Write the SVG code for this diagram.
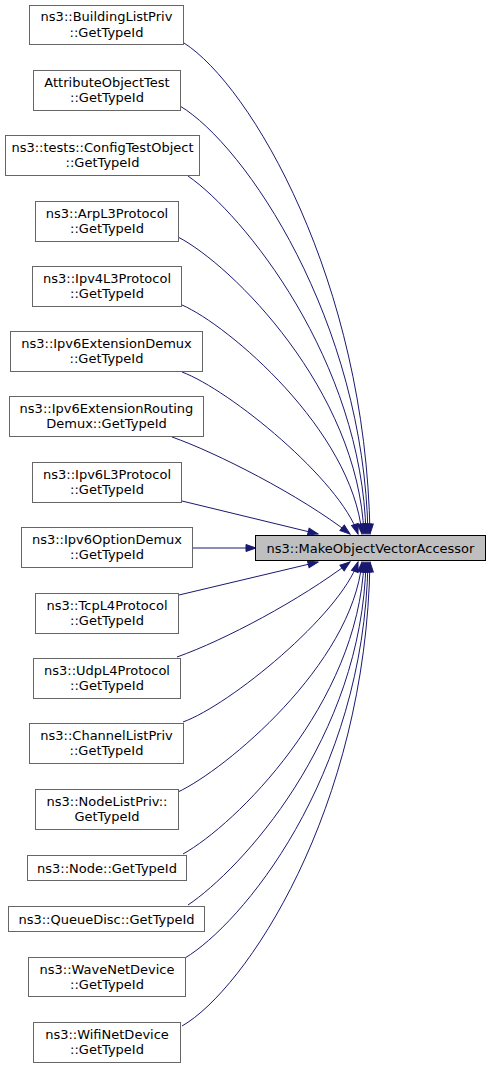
<svg xmlns="http://www.w3.org/2000/svg" width="491" height="1068" viewBox="0 0 491 1068">
<defs>
<style>
.n rect{fill:#ffffff;stroke:#666666;stroke-width:1}
.t rect{fill:#bfbfbf;stroke:#000000;stroke-width:1}
text{font-family:"DejaVu Sans","Liberation Sans",sans-serif;font-size:13px;fill:#000000;text-anchor:middle}
.e path{fill:none;stroke:#191970;stroke-width:1;marker-end:url(#arr)}
</style>
<marker id="arr" markerUnits="userSpaceOnUse" markerWidth="12" markerHeight="9" refX="10" refY="3.5" orient="auto" overflow="visible">
<path d="M0,0 L10,3.5 L0,7 z" fill="#191970" stroke="#191970" stroke-width="1"/>
</marker>
</defs>
<rect x="0" y="0" width="491" height="1068" fill="#ffffff"/>
<g id="edges" class="e">
<path d="M184,43 C250,85 366,280 370,534"/>
<path d="M180,106 C245,145 364,320 368,534"/>
<path d="M188,176 C243,214 362,360 366,534"/>
<path d="M178,237 C232,265 358,390 364,534"/>
<path d="M182,305 C228,325 352,430 362,534"/>
<path d="M182,372 C230,390 340,480 358,534"/>
<path d="M172,437 C215,452 300,495 350,534"/>
<path d="M182,501 L318,534"/>
<path d="M192,548 L256,548"/>
<path d="M179,595 L318,562"/>
<path d="M177,657 C225,640 300,600 350,562"/>
<path d="M183,722 C230,705 340,615 358,562"/>
<path d="M178,792 C225,770 352,665 362,562"/>
<path d="M183,854 C235,825 358,705 364,562"/>
<path d="M188,905 C240,870 362,740 366,562"/>
<path d="M185,958 C240,925 364,780 368,562"/>
<path d="M182,1026 C245,990 366,810 370,562"/>
</g>
<g id="target" class="t"><rect x="255.5" y="535.5" width="230" height="25"/><text x="370.5" y="552.5">ns3::MakeObjectVectorAccessor</text></g>
<g id="n1" class="n"><rect x="29.5" y="5.5" width="154" height="39"/><text x="106.5" y="21">ns3::BuildingListPriv</text><text x="106.5" y="36.5">::GetTypeId</text></g>
<g id="n2" class="n"><rect x="33.5" y="70.5" width="147" height="40"/><text x="107" y="86.5">AttributeObjectTest</text><text x="107" y="102">::GetTypeId</text></g>
<g id="n3" class="n"><rect x="5.5" y="135.5" width="194" height="40"/><text x="102.5" y="151.5">ns3::tests::ConfigTestObject</text><text x="102.5" y="167">::GetTypeId</text></g>
<g id="n4" class="n"><rect x="35.5" y="201.5" width="143" height="40"/><text x="107" y="217.5">ns3::ArpL3Protocol</text><text x="107" y="233">::GetTypeId</text></g>
<g id="n5" class="n"><rect x="32.5" y="266.5" width="149" height="40"/><text x="107" y="282.5">ns3::Ipv4L3Protocol</text><text x="107" y="298">::GetTypeId</text></g>
<g id="n6" class="n"><rect x="10.5" y="331.5" width="192" height="40"/><text x="106.5" y="347.5">ns3::Ipv6ExtensionDemux</text><text x="106.5" y="363">::GetTypeId</text></g>
<g id="n7" class="n"><rect x="9.5" y="396.5" width="194" height="40"/><text x="106.5" y="412.5">ns3::Ipv6ExtensionRouting</text><text x="106.5" y="428">Demux::GetTypeId</text></g>
<g id="n8" class="n"><rect x="32.5" y="462.5" width="149" height="40"/><text x="107" y="478.5">ns3::Ipv6L3Protocol</text><text x="107" y="494">::GetTypeId</text></g>
<g id="n9" class="n"><rect x="21.5" y="527.5" width="171" height="40"/><text x="107" y="543.5">ns3::Ipv6OptionDemux</text><text x="107" y="559">::GetTypeId</text></g>
<g id="n10" class="n"><rect x="35.5" y="593.5" width="143" height="40"/><text x="107" y="609.5">ns3::TcpL4Protocol</text><text x="107" y="625">::GetTypeId</text></g>
<g id="n11" class="n"><rect x="33.5" y="658.5" width="147" height="40"/><text x="107" y="674.5">ns3::UdpL4Protocol</text><text x="107" y="690">::GetTypeId</text></g>
<g id="n12" class="n"><rect x="29.5" y="723.5" width="154" height="40"/><text x="106.5" y="739.5">ns3::ChannelListPriv</text><text x="106.5" y="755">::GetTypeId</text></g>
<g id="n13" class="n"><rect x="35.5" y="789.5" width="143" height="40"/><text x="107" y="805.5">ns3::NodeListPriv::</text><text x="107" y="821">GetTypeId</text></g>
<g id="n14" class="n"><rect x="27.5" y="855.5" width="159" height="25"/><text x="107" y="872.5">ns3::Node::GetTypeId</text></g>
<g id="n15" class="n"><rect x="8.5" y="906.5" width="196" height="25"/><text x="106.5" y="923.5">ns3::QueueDisc::GetTypeId</text></g>
<g id="n16" class="n"><rect x="28.5" y="957.5" width="157" height="39"/><text x="107" y="973.5">ns3::WaveNetDevice</text><text x="107" y="989">::GetTypeId</text></g>
<g id="n17" class="n"><rect x="33.5" y="1022.5" width="147" height="40"/><text x="107" y="1038.5">ns3::WifiNetDevice</text><text x="107" y="1054">::GetTypeId</text></g>
</svg>
